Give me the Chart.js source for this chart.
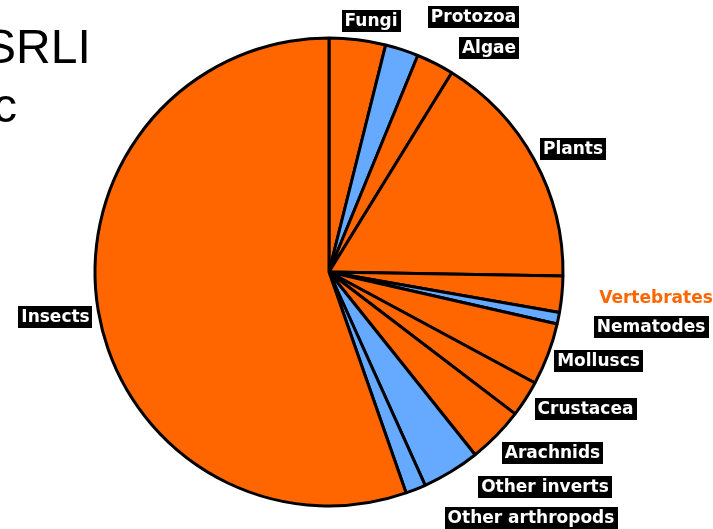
<!DOCTYPE html>
<html>
<head>
<meta charset="utf-8">
<script src="https://cdn.jsdelivr.net/npm/chart.js@4.4.1/dist/chart.umd.min.js"></script>
<style>
    html, body { margin: 0; padding: 0; background: #fff; overflow: hidden; }
    #grafico { display: block; }
</style>
</head>
<body>
<canvas id="grafico" width="713" height="529"></canvas>
<script>
// Dados (percentagem de espécies por grupo)
const categorias = ['Fungi', 'Protozoa', 'Algae', 'Plants', 'Vertebrates', 'Nematodes',
    'Molluscs', 'Crustacea', 'Arachnids', 'Other inverts', 'Other arthropods', 'Insects'];
const valores = [3.9, 2.3, 2.6, 16.5, 2.5, 0.8, 4.3, 2.5, 3.9, 4.0, 1.4, 55.4];
const grupoAzul = [false, true, false, false, false, true, false, false, false, true, true, false];

const LARANJA = '#FF6600';
const AZUL = '#66AAFF';

// Posição dos rótulos em relação ao centro da pizza (para raio 234)
const posRotulos = [
    [42, -251], [144.5, -255], [160, -224.5], [244, -123.5], [327, 26], [322, 54.5],
    [269.5, 89], [256.5, 136.5], [223.5, 180.5], [216, 214.5], [202, 246], [-273.5, 45]
];

// Título cortado no canto superior esquerdo
const pluginTitulo = {
    id: 'titulo',
    beforeDraw(chart) {
        const ctx = chart.ctx;
        ctx.save();
        ctx.fillStyle = '#000';
        ctx.font = '48px "Liberation Sans", Arial, sans-serif';
        ctx.textBaseline = 'alphabetic';
        ctx.textAlign = 'left';
        ctx.fillText('SRLI', -16, 63);
        ctx.fillText('c', -7, 122);
        ctx.restore();
    }
};

// Rótulos com caixa preta
const pluginRotulos = {
    id: 'rotulos',
    afterDraw(chart) {
        const ctx = chart.ctx;
        const arcos = chart.getDatasetMeta(0).data;
        if (!arcos.length) return;
        const cx = arcos[0].x;
        const cy = arcos[0].y;
        const escala = arcos[0].outerRadius / 234;
        ctx.save();
        ctx.font = 'bold 17px "DejaVu Sans", Verdana, sans-serif';
        ctx.textAlign = 'center';
        ctx.textBaseline = 'middle';
        categorias.forEach((nome, i) => {
            const x = cx + posRotulos[i][0] * escala;
            const y = cy + posRotulos[i][1] * escala;
            const w = ctx.measureText(nome).width;
            if (nome === 'Vertebrates') {
                ctx.fillStyle = LARANJA;
                ctx.fillText(nome, x, y + 1);
                return;
            }
            ctx.fillStyle = '#000';
            ctx.fillRect(Math.round(x - w / 2 - 3), Math.round(y - 11), Math.round(w + 6), 22);
            ctx.fillStyle = '#fff';
            ctx.fillText(nome, x, y + 1);
        });
        ctx.restore();
    }
};

const canvas = document.getElementById('grafico');

new Chart(canvas, {
    type: 'pie',
    data: {
        labels: categorias,
        datasets: [{
            data: valores,
            backgroundColor: grupoAzul.map(b => b ? AZUL : LARANJA),
            borderColor: '#000',
            borderWidth: 3,
            hoverBorderWidth: 3,
            hoverOffset: 0,
            offset: 0
        }]
    },
    options: {
        responsive: false,
        animation: false,
        events: [],
        layout: {
            padding: { left: 93.5, right: 148.5, top: 36.5, bottom: 21.5 }
        },
        plugins: {
            legend: { display: false },
            tooltip: { enabled: false },
            title: { display: false }
        }
    },
    plugins: [pluginTitulo, pluginRotulos]
});
</script>
</body>
</html>
